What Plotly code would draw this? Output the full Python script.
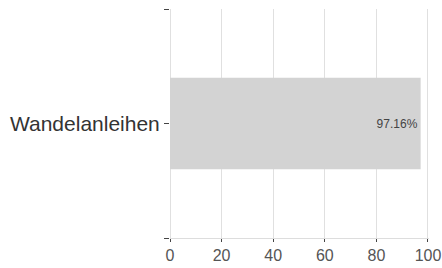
import plotly.graph_objects as go

categories = ["Wandelanleihen"]
values = [97.16]
x_ticks = [0, 20, 40, 60, 80, 100]

ypos = list(range(len(categories)))
fig = go.Figure(go.Bar(
    x=values, y=ypos, orientation="h",
    width=0.4,
    marker=dict(color="#d3d3d3", line=dict(width=0)),
    text=[f"{v:.2f}%" for v in values],
    textposition="inside", insidetextanchor="end",
    textfont=dict(family="Liberation Sans, Arial", size=12, color="#444"),
    hoverinfo="skip",
))

fig.update_layout(
    width=442, height=268,
    margin=dict(l=170, r=13, t=9, b=30, autoexpand=False),
    paper_bgcolor="white", plot_bgcolor="white",
    showlegend=False,
    font=dict(family="Liberation Sans, Arial", color="#444"),
)
fig.update_xaxes(
    range=[0, 100.4], tickvals=x_ticks,
    showgrid=True, gridcolor="#e0e0e0", gridwidth=1,
    zeroline=True, zerolinecolor="#e0e0e0", zerolinewidth=1,
    showline=True, linecolor="#dddddd", linewidth=1,
    ticks="outside", ticklen=3, tickcolor="#444",
    tickfont=dict(size=16, color="#555"),
    automargin=False, fixedrange=True,
)
fig.update_yaxes(
    range=[-0.5, 0.5],
    tickvals=[-0.5] + ypos + [0.5],
    ticktext=[""] + categories + [""],
    showgrid=False, zeroline=False, showline=False,
    ticks="outside", ticklen=5, tickcolor="#444",
    tickfont=dict(size=21, color="#333"),
    automargin=False, fixedrange=True,
)
fig.write_html(
    "out.html",
    config={"displayModeBar": False},
    post_script="document.body.style.margin='0';document.body.style.padding='0';",
)
